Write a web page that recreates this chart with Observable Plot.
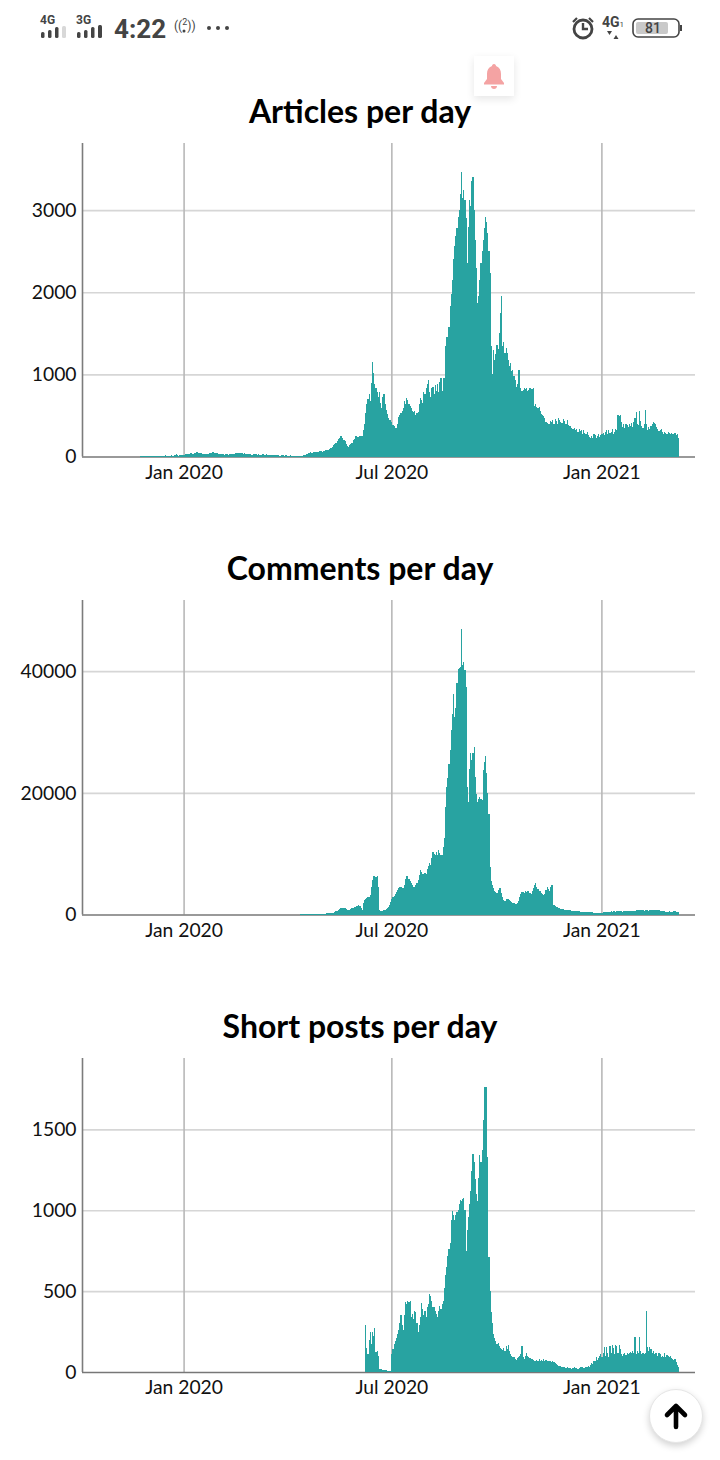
<!DOCTYPE html>
<html><head><meta charset="utf-8">
<script src="https://cdn.jsdelivr.net/npm/d3@7"></script>
<script src="https://cdn.jsdelivr.net/npm/@observablehq/plot@0.6"></script>
<style>
html,body{margin:0;padding:0;background:#fff;width:720px;height:1460px;overflow:hidden;font-family:Lato,sans-serif}
.chart{position:absolute;left:0}
.chart svg{display:block;background:transparent;overflow:visible}
.title{position:absolute;left:0;width:720px;text-align:center;font:700 32px Lato,sans-serif;color:#000;line-height:38px}
.st{position:absolute;font-family:Roboto,sans-serif;color:#444;white-space:nowrap}
#deco{position:absolute;left:0;top:0}
.bellbox{position:absolute;left:474px;top:56px;width:40px;height:40px;background:#fff;box-shadow:0 3px 8px rgba(0,0,0,.10)}
.upbtn{position:absolute;left:649px;top:1389px;width:54px;height:54px;border-radius:50%;background:#fff;border:1px solid #e6e6e6;box-sizing:border-box;box-shadow:0 3px 7px rgba(0,0,0,.18)}
</style></head><body>
<div id="root"></div>
<script>
const titles = ["Articles per day", "Comments per day", "Short posts per day"];
const tickDates = ["2020-01-01", "2020-07-01", "2021-01-01"];
const domainStart = "2019-10-04", domainEnd = "2021-03-24";

const articlesStart = "2019-11-24";
const articles = [
3,2,4,3,5,4,6,5,3,6,8,12,4,5,9,7,10,6,8,12,9,7,14,10,8,6,12,18,11,9,16,25,14,10,15,24,20,18,
22,30,26,35,28,32,38,30,35,42,48,60,52,45,40,38,35,30,28,32,30,35,42,38,45,50,55,48,42,38,35,
30,28,32,26,24,28,30,25,22,28,26,30,34,32,38,40,45,42,48,44,40,36,38,32,30,28,34,26,22,
24,28,30,26,22,25,20,18,22,26,20,24,28,22,18,20,16,18,22,15,18,14,16,20,12,15,18,14,10,13,16,
12,10,14,9,11,8,10,12,7,9,6,
5,8,12,15,18,25,30,38,45,50,
48,52,55,50,58,60,56,62,66,60,
65,72,78,74,82,90,98,108,120,138,
150,160,185,210,225,255,245,220,200,185,
150,125,120,135,150,165,200,215,250,245,
235,240,255,250,245,320,400,530,640,700,
760,680,900,1155,1020,880,840,780,720,790,
650,590,730,760,640,570,520,470,440,450,
420,385,370,350,345,390,480,500,530,560,
590,680,640,710,690,640,620,590,560,540,
550,510,530,540,640,710,690,650,790,760,
840,880,930,790,720,830,850,760,870,800,
880,790,905,960,800,950,960,1340,1450,1460,
1580,1830,1980,2150,2400,2560,2680,2780,2920,3000,
3200,3470,3150,3250,3120,2900,2350,2800,3120,3050,
3350,3400,3000,2640,2300,1870,1960,2150,2350,2500,
2640,2780,2920,2850,2720,2500,2230,1340,1010,1300,
1180,1250,1360,1310,1500,1750,1950,1340,1400,1260,
1320,1260,1180,1100,1140,1040,1050,980,930,850,
880,1050,1050,830,800,810,830,820,830,800,
815,830,820,825,830,610,640,600,590,600,
550,520,500,490,470,420,410,400,395,430,
420,440,400,460,430,390,470,450,420,410,
460,430,390,400,440,380,370,350,340,330,
350,320,340,300,330,310,320,270,320,290,
270,300,260,240,220,250,220,280,260,230,
250,270,240,260,270,290,260,300,320,280,
320,290,300,340,280,300,330,320,500,490,
500,420,365,390,350,400,380,360,400,370,
410,360,420,470,540,400,380,550,430,370,
350,400,570,400,320,360,340,370,400,425,
410,390,360,330,310,320,330,300,280,300,
290,270,295,285,270,290,280,275,290,260,
280,230];

const commentsStart = "2020-04-12";
const comments = [
10,10,15,20,20,30,30,40,40,50,
50,60,60,70,80,80,90,100,110,120,
130,140,160,180,200,210,230,250,270,300,
400,520,640,780,900,1000,1100,1150,1150,1050,
900,780,700,800,900,1000,1100,1200,1300,1350,
1450,1500,1450,1100,800,1900,2400,2600,2750,2850,
2900,3200,4550,5600,6400,6300,6200,6400,4500,700,
650,600,620,680,750,850,1000,1250,1600,2000,
2600,2800,3100,3400,3700,4000,4300,4500,4600,4400,
4300,4800,5800,6300,6400,5900,5500,5100,4800,4500,
4600,4900,5100,5700,6500,7300,7000,6700,6600,6800,
6700,7400,8000,8400,8200,9300,10300,9900,9700,10200,
9700,10600,10100,9800,9700,11100,12500,17700,21000,22500,
24800,27000,30300,33000,36300,32500,34000,38000,40400,40500,
40700,46900,41000,41500,40200,37400,21000,18500,24000,26600,
25400,26500,27600,22600,19800,18500,19000,19300,19000,18800,
23700,25000,26100,23200,20000,16600,7800,5500,4800,4300,
3900,3700,3500,4000,4400,4300,3500,2800,2400,2300,
2500,2600,2600,2400,2200,2000,1900,1850,1800,1800,
1900,2300,2800,3300,3700,3700,3600,3800,3700,3900,
3800,3500,3400,3800,4400,4900,5200,4600,4200,3900,
3900,3600,3400,3200,3300,4100,4500,4200,3900,4600,
4900,4800,1500,1400,1300,1200,1100,1000,950,900,
850,800,800,750,700,700,680,650,620,600,
580,560,550,520,500,480,480,450,430,420,
400,390,380,370,350,340,330,320,320,310,
300,290,280,300,320,330,350,380,400,430,
460,430,500,480,520,550,480,540,550,500,
550,520,480,560,600,540,520,560,600,620,
580,620,650,600,680,720,700,660,700,720,
680,640,700,720,680,650,700,740,770,800,
780,800,820,760,700,650,600,560,520,500,
480,470,450,500,460,420,480,500,520,480,
440,380];

const shortStart = "2020-06-08";
const shortPosts = [
290,150,110,200,245,170,245,220,270,125,
130,100,20,18,16,15,14,12,10,9,
8,6,6,110,140,175,190,210,235,260,
300,350,290,260,350,430,420,440,430,440,
340,360,330,380,370,300,245,290,340,425,
390,350,380,340,400,420,485,470,440,400,
400,380,360,340,380,410,390,420,440,520,
600,650,720,760,800,940,995,970,940,970,
990,1000,1040,1065,1060,1070,1075,1000,750,880,
960,1040,1120,1240,1350,1300,1190,1100,1060,1200,
1340,1300,1370,1555,1760,1760,1760,1330,710,500,
370,300,235,210,190,175,180,160,150,145,
135,150,130,160,140,165,130,110,100,95,
90,80,75,85,90,100,110,160,90,80,
100,115,100,90,85,80,80,75,70,70,
75,70,80,70,75,70,80,70,75,65,
70,65,70,60,70,60,55,50,45,40,
40,35,32,30,28,25,25,28,22,25,
20,22,25,28,25,22,20,25,28,30,
28,25,22,30,28,35,30,45,55,50,
65,70,90,75,85,100,110,90,120,155,
100,155,120,90,160,120,165,150,110,165,
160,120,165,140,110,100,110,120,105,115,
110,120,125,115,130,120,215,110,130,120,
215,130,110,120,110,120,375,155,130,155,
140,120,130,110,120,115,100,115,110,90,
100,90,115,95,105,100,95,100,85,80,
75,80,60,45,30];

const yTicks = [[0,1000,2000,3000],[0,20000,40000],[0,500,1000,1500]];
const yMax = [3817,51700,1941];

const TEAL="#28a3a1";
const parse=d3.utcParse("%Y-%m-%d");
function rows(start,values){
  const s=parse(start);
  return values.map((v,i)=>({d1:d3.utcDay.offset(s,i),d2:d3.utcDay.offset(s,i+1),v}));
}
const series=[rows(articlesStart,articles),rows(commentsStart,comments),rows(shortStart,shortPosts)];
const layout=[{top:130,mb:33.5,title:92},{top:587,mb:32.5,title:549},{top:1045,mb:33,title:1007}];
const root=document.getElementById("root");
const ticks=tickDates.map(parse);
series.forEach((data,k)=>{
  const t=document.createElement("div");t.className="title";t.textContent=titles[k];t.style.top=layout[k].title+"px";root.appendChild(t);
  const p=Plot.plot({
    width:720,height:360,marginTop:13,marginBottom:layout[k].mb,marginLeft:82,marginRight:25,
    style:{background:"transparent",fontFamily:"Lato, sans-serif",fontSize:"19.3px",color:"#111",overflow:"visible"},
    x:{type:"utc",domain:[parse(domainStart),parse(domainEnd)]},
    y:{domain:[0,yMax[k]]},
    marks:[
      Plot.gridY(yTicks[k].slice(1),{stroke:"#d6d6d6",strokeOpacity:1,strokeWidth:1.6}),
      Plot.gridX(ticks,{stroke:"#b8b8b8",strokeOpacity:1,strokeWidth:1.6}),
      Plot.ruleX([parse(domainStart)],{stroke:"#7c7c7c",strokeWidth:1.6}),
      Plot.ruleY([0],{stroke:"#777",strokeWidth:1.6}),
      Plot.rectY(data,{x1:"d1",x2:"d2",y1:0,y2:"v",fill:TEAL,shapeRendering:"crispEdges"}),
      Plot.axisY({ticks:yTicks[k],tickSize:0,tickPadding:6,label:null,tickFormat:d=>String(d),fontSize:19.3,fill:"#111"}),
      Plot.axisX({ticks:ticks,tickSize:0,tickPadding:8,label:null,tickFormat:d3.utcFormat("%b %Y"),fontSize:19.3,fill:"#111"})
    ]
  });
  const w=document.createElement("div");w.className="chart";w.style.top=layout[k].top+"px";w.appendChild(p);root.appendChild(w);
});
</script>

<div class="st" style="left:40px;top:13px;font-size:12px;font-weight:700">4G</div>
<div class="st" style="left:76px;top:13px;font-size:12px;font-weight:700">3G</div>
<div class="st" style="left:114px;top:14px;font-size:26px;font-weight:700;line-height:30px">4:22</div>
<div class="st" style="left:174px;top:19px;font-size:12px">((<span style="font-size:9px;position:relative;top:-5px">2</span>))</div>
<div class="st" style="left:602px;top:14px;font-size:14px;font-weight:700">4G<span style="font-size:8px;font-weight:400">1</span></div>
<svg id="deco" width="720" height="60" style="pointer-events:none">
  <g fill="#444">
    <rect x="41" y="32" width="3.500" height="6" rx="1.500"/><rect x="48" y="30" width="3.500" height="8" rx="1.500"/><rect x="55" y="27" width="3.500" height="11" rx="1.500"/><rect x="62" y="26" width="4" height="12" rx="1.500" fill="#d8d8d8"/>
    <rect x="77" y="32" width="3.500" height="6" rx="1.500"/><rect x="84" y="30" width="3.500" height="8" rx="1.500"/><rect x="91" y="27" width="3.500" height="11" rx="1.500"/><rect x="98" y="25" width="4" height="13" rx="1.500"/>
    <circle cx="209" cy="28" r="2"/><circle cx="218" cy="28" r="2"/><circle cx="227" cy="28" r="2"/>
    <circle cx="184" cy="31" r="1.500"/>
    <path d="M607 31h5l-2.500 4zM613.500 39h5l-2.500-4z"/>
  </g>
  <g fill="none" stroke="#444">
    <circle cx="583" cy="29" r="9" stroke-width="2.800"/>
    <path d="M583 23v6h5" stroke-width="2.400"/>
    <path d="M573 22l4-4M593 22l-4-4" stroke-width="2.200"/>
    <rect x="633" y="19" width="46" height="18" rx="5" stroke-width="1.600"/>
  </g>
  <rect x="636" y="22" width="32" height="12" rx="2" fill="#c9c9c9"/>
  <rect x="680" y="25" width="2" height="6" fill="#444"/>
</svg>
<div class="st" style="left:645px;top:20px;font-size:14px;font-weight:500">81</div>
<div class="bellbox"><svg width="40" height="40"><g fill="#f4a3a3"><path d="M20 8c-1.400 0-2 1-2 2-3.500 1.200-5 4-5 8v5l-3 4v1.500h20V27l-3-4v-5c0-4-1.500-6.800-5-8 0-1-.6-2-2-2z"/><path d="M17 30h6c0 2-1.300 3-3 3s-3-1-3-3z"/></g></svg></div>
<div class="upbtn"><svg width="52" height="52"><path d="M26 37V17M17 25l9-9 9 9" fill="none" stroke="#000" stroke-width="4.600" stroke-linecap="round" stroke-linejoin="round"/></svg></div>
</body></html>
